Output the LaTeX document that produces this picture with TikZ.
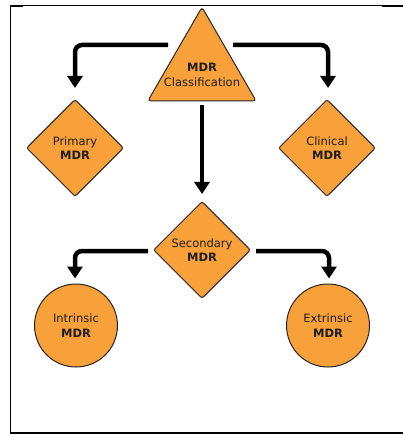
\documentclass[tikz,border=0pt]{standalone}
\usepackage{fontspec}
\setmainfont{DejaVu Sans}
\usetikzlibrary{shapes.geometric,arrows.meta,calc}
\definecolor{mdrorange}{RGB}{248,160,58}
\definecolor{txtgray}{RGB}{30,30,30}
\begin{document}
\begin{tikzpicture}[x=1pt,y=-1pt,
  shapebox/.style={draw=black!85,line width=1pt,fill=mdrorange},
  lbl/.style={font=\fontsize{11.5}{14.5}\selectfont,text=txtgray,align=center},
  dia/.style={shapebox,lbl,diamond,minimum width=97pt,minimum height=97pt,inner sep=0pt,rounded corners=2pt},
  circ/.style={shapebox,lbl,circle,minimum size=83pt,inner sep=0pt},
  tri/.style={shapebox,regular polygon,regular polygon sides=3,minimum size=125pt,inner sep=0pt,rounded corners=3pt},
  conn/.style={line width=4.5pt,rounded corners=7pt,-{Triangle[width=15pt,length=12pt]}},
  frame/.style={black,line width=1pt}
]
\useasboundingbox (0,0) rectangle (403,435);
% frame
\draw[frame] (10,5.5) -- (403,5.5);
\draw[black,line width=2pt] (10,6) -- (23,6);
\draw[black,line width=2pt] (382,6) -- (403,6);
\draw[black,line width=1.3pt] (10.6,5) -- (10.6,434);
\draw[black,line width=2pt] (10,433.3) -- (403,433.3);
% shapes
\node[tri] (cls) at (202,69.7) {};
\node[lbl] (clstext) at (202,75) {\textbf{MDR}\\Classification};
\node[dia] (prim) at (75,148) {Primary\\\textbf{MDR}};
\node[dia] (clin) at (327,148) {Clinical\\\textbf{MDR}};
\node[dia] (sec) at (202,250) {Secondary\\\textbf{MDR}};
\node[circ] (intr) at (76,325.5) {Intrinsic\\\textbf{MDR}};
\node[circ] (extr) at (328,325.5) {Extrinsic\\\textbf{MDR}};
% connectors
\coordinate (aL) at (168,45);
\coordinate (aR) at (233,45);
\draw[conn] (aL) -| ([yshift=11pt]prim.north);
\draw[conn] (aR) -| ([yshift=11pt,xshift=1pt]clin.north);
\draw[conn] ([yshift=-4pt]cls.corner 1 |- cls.corner 2) -- ([yshift=7pt]sec.north);
\draw[conn] ([xshift=-5pt,yshift=-1pt]sec.west) -| ([yshift=5pt,xshift=-1pt]intr.north);
\draw[conn] ([xshift=5pt,yshift=-1pt]sec.east) -| ([yshift=5pt,xshift=1pt]extr.north);
\end{tikzpicture}
\end{document}
